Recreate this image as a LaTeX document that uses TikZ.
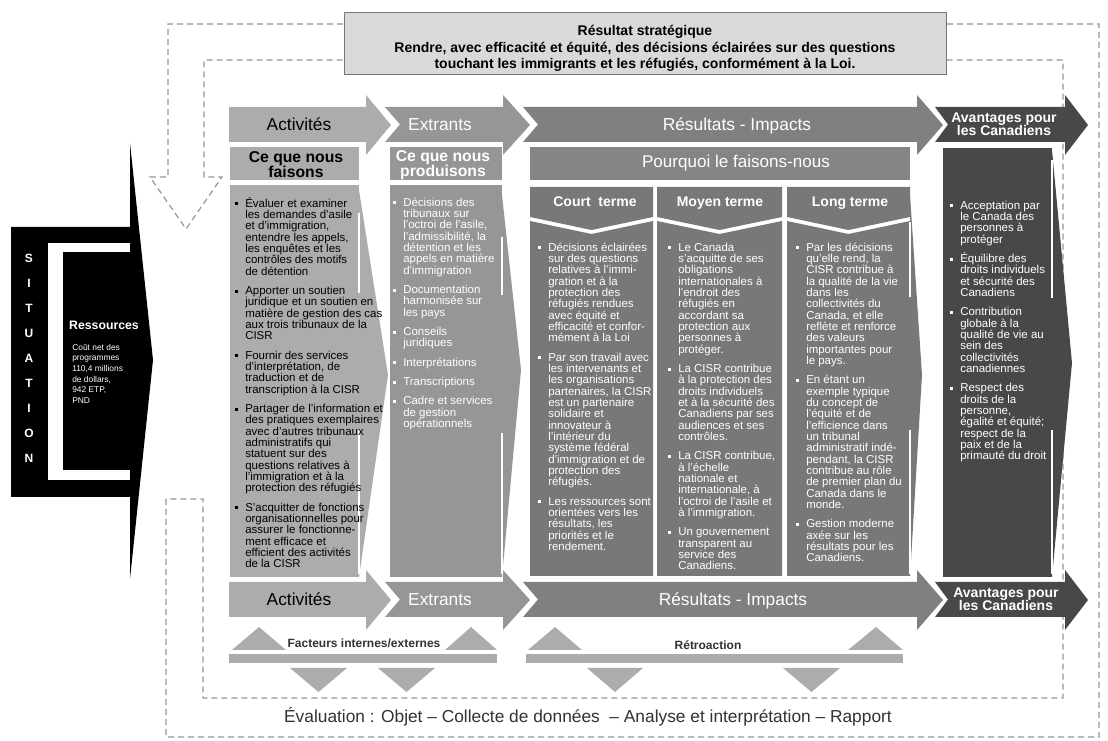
\documentclass[tikz,border=0pt]{standalone}
\usepackage{fontspec}
\setmainfont{Liberation Sans}
\definecolor{cact}{RGB}{172,172,172}
\definecolor{cext}{RGB}{150,150,150}
\definecolor{cres}{RGB}{128,128,128}
\definecolor{ccol}{RGB}{120,120,120}
\definecolor{cpq}{RGB}{133,133,133}
\definecolor{cav}{RGB}{72,72,72}
\definecolor{cbox}{RGB}{217,217,217}
\definecolor{cbord}{RGB}{120,120,120}
\definecolor{cdash}{RGB}{150,150,150}
\definecolor{ctri}{RGB}{172,172,172}
\definecolor{ctxt}{RGB}{50,50,50}
\newcommand\blt{\leavevmode\llap{\rule[1.2pt]{2.3pt}{2.3pt}\hspace{5.5pt}}}
\newcommand\fl{\rule{0pt}{9pt}}
\setlength{\lineskiplimit}{-20pt}
\begin{document}
\begin{tikzpicture}[x=0.75pt,y=-0.75pt,
  dashline/.style={draw=cdash,line width=0.9pt,dash pattern=on 4.5pt off 3pt},
  body/.style={anchor=north west,inner sep=0pt,align=left,font=\fontsize{8.6}{8.5}\selectfont},
  lbl/.style={inner sep=0pt,align=center},
  arrlbl/.style={lbl,anchor=base,font=\fontsize{13}{13}\selectfont},
  avlbl/.style={lbl,text=white,font=\bfseries\fontsize{10.5}{9.8}\selectfont},
  hdrlbl/.style={lbl,font=\bfseries\fontsize{11.8}{11.2}\selectfont},
  termlbl/.style={lbl,anchor=base,text=white,font=\bfseries\fontsize{10.5}{10.5}\selectfont},
  wseg/.style={draw=white,line width=1.5pt},
  fblbl/.style={lbl,anchor=base,text=ctxt,font=\bfseries\fontsize{9}{9}\selectfont}]
\useasboundingbox (0,0) rectangle (1108,741);
\fill[white] (0,0) rectangle (1108,741);

% dashed evaluation loop
\draw[dashline] (166,499) -- (166,737) -- (1099,737) -- (1099,24) -- (168,24) -- (168,177) -- (150,177) -- (186,229) -- (222,177) -- (204,177) -- (204,60) -- (1063,60) -- (1063,698) -- (203,698) -- (203,499) -- cycle;

% strategic outcome box
\node[draw=cbord,fill=cbox,line width=0.8pt,minimum width=451.5pt,minimum height=46.5pt,inner sep=0pt,anchor=north west] (goal) at (344,12) {};
\node[lbl,anchor=north,font=\bfseries\fontsize{10.5}{12.6}\selectfont] (goaltxt) at (645,21) {\rule{0pt}{10.5pt}Résultat stratégique\\Rendre, avec efficacité et équité, des décisions éclairées sur des questions\\touchant les immigrants et les réfugiés, conformément à la Loi.};

% situation
\fill[black] (11,227) -- (130,227) -- (130,143) -- (153,360) -- (130,579) -- (130,497) -- (11,497) -- cycle;
\fill[white] (48,243) rectangle (130,480);
\fill[black] (63,252) rectangle (131,470);
\foreach \l/\i in {S/1,I/2,T/3,U/4,A/5,T/6,I/7,O/8,N/9}
  \node[lbl,anchor=base,text=white,font=\bfseries\fontsize{9}{9}\selectfont] (sit\i) at (29,{237.5+25*\i}) {\l};
\node[lbl,anchor=base,text=white,font=\bfseries\fontsize{9.2}{9}\selectfont] (res) at (104,329.5) {Ressources};
\node[anchor=north west,inner sep=0pt,align=left,text=white,font=\fontsize{6.3}{8}\selectfont] (restxt) at (72,341.3) {\rule{0pt}{6.5pt}Coût net des\\programmes\\110,4 millions\\de dollars,\\942 ETP,\\PND};

% top arrow row
\fill[cact] (229,107) -- (366,107) -- (366,95) -- (391,125) -- (366,155) -- (366,142) -- (229,142) -- cycle;
\fill[cext] (385,107) -- (503,107) -- (503,95) -- (530,125) -- (503,155) -- (503,142) -- (385,142) -- (400,124.5) -- cycle;
\fill[cres] (523,107) -- (917,107) -- (917,95) -- (943,125) -- (917,155) -- (917,142) -- (523,142) -- (538,124.5) -- cycle;
\fill[cav] (935,107) -- (1065,107) -- (1065,95) -- (1088,125) -- (1065,155) -- (1065,142) -- (935,142) -- (948,124.5) -- cycle;
\node[arrlbl] (actT) at (299,131) {Activités};
\node[arrlbl,text=white] (extT) at (440,131) {Extrants};
\node[arrlbl,text=white] (resT) at (737,131) {Résultats - Impacts};
\node[avlbl] (avT) at (1004,124.5) {Avantages pour\\les Canadiens};

% bottom arrow row
\fill[cact] (229,582) -- (366,582) -- (366,570) -- (391,600) -- (366,630) -- (366,617) -- (229,617) -- cycle;
\fill[cext] (385,582) -- (503,582) -- (503,570) -- (530,600) -- (503,630) -- (503,617) -- (385,617) -- (400,599.5) -- cycle;
\fill[cres] (523,582) -- (917,582) -- (917,570) -- (943,600) -- (917,630) -- (917,617) -- (523,617) -- (538,599.5) -- cycle;
\fill[cav] (935,582) -- (1065,582) -- (1065,570) -- (1088,600) -- (1065,630) -- (1065,617) -- (935,617) -- (948,599.5) -- cycle;
\node[arrlbl] (actB) at (299,606) {Activités};
\node[arrlbl,text=white] (extB) at (440,606) {Extrants};
\node[arrlbl,text=white] (resB) at (733,606) {Résultats - Impacts};
\node[avlbl] (avB) at (1006,599.5) {Avantages pour\\les Canadiens};

% headers
\fill[cact] (230,147) rectangle (359,180);
\fill[cext] (390,147) rectangle (502,180);
\fill[cpq] (530,147) rectangle (910,180);
\node[hdrlbl] (faisons) at (296,164.5) {Ce que nous\\faisons};
\node[hdrlbl,text=white] (produisons) at (443,165.5) {Ce que nous\\produisons};
\node[lbl,anchor=base,text=white,font=\fontsize{12.8}{12.8}\selectfont] (pourquoi) at (736,168) {Pourquoi le faisons-nous};

% activities column
\fill[cact] (359,190) -- (388,375) -- (359,577) -- cycle;
\fill[cact] (230,185) rectangle (359,577);
\draw[wseg] (359,213) -- (359,293);
\draw[wseg] (359,430) -- (359,574);
% outputs column
\fill[cext] (502,195) -- (521,370) -- (502,577) -- cycle;
\fill[cext] (390,185) rectangle (502,577);
\draw[wseg] (502,237) -- (502,295);
\draw[wseg] (502,433) -- (502,574);
% outcome columns
\fill[ccol] (910,195) -- (922,375) -- (910,577) -- cycle;
\fill[ccol] (530,187) -- (653,187) -- (653,217) -- (591.5,230) -- (530,217) -- cycle;
\fill[ccol] (530,221) -- (591.5,234) -- (653,221) -- (653,576) -- (530,576) -- cycle;
\fill[ccol] (657,187) -- (782,187) -- (782,217) -- (719.5,230) -- (657,217) -- cycle;
\fill[ccol] (657,221) -- (719.5,234) -- (782,221) -- (782,576) -- (657,576) -- cycle;
\fill[ccol] (787,187) -- (910,187) -- (910,217) -- (848.5,230) -- (787,217) -- cycle;
\fill[ccol] (787,221) -- (848.5,234) -- (910,221) -- (910,576) -- (787,576) -- cycle;
\draw[wseg] (910,222) -- (910,297);
\draw[wseg] (910,430) -- (910,574);
\node[termlbl] (court) at (595,207) {Court\ \ terme};
\node[termlbl] (moyen) at (720,207) {Moyen terme};
\node[termlbl] (long) at (850,207) {Long terme};
% benefits column
\fill[cav] (1052,150) -- (1072,363) -- (1052,577) -- cycle;
\fill[cav] (943,148) rectangle (1052,577);
\draw[wseg] (1052,160) -- (1052,298);
\draw[wseg] (1052,430) -- (1052,574);

% column texts
\node[body,text=black] (acttxt) at (245,194.8) {\fl\blt Évaluer et examiner\\les demandes d'asile\\et d'immigration,\\entendre les appels,\\les enquêtes et les\\contrôles des motifs\\de détention\\[6pt]\blt Apporter un soutien\\juridique et un soutien en\\matière de gestion des cas\\aux trois tribunaux de la\\CISR\\[6pt]\blt Fournir des services\\d'interprétation, de\\traduction et de\\transcription à la CISR\\[6pt]\blt Partager de l'information et\\des pratiques exemplaires\\avec d'autres tribunaux\\administratifs qui\\statuent sur des\\questions relatives à\\l'immigration et à la\\protection des réfugiés\\[6pt]\blt S'acquitter de fonctions\\organisationnelles pour\\assurer le fonctionne-\\ment efficace et\\efficient des activités\\de la CISR};

\node[body,text=white] (exttxt) at (403,193.8) {\fl\blt Décisions des\\tribunaux sur\\l'octroi de l'asile,\\l'admissibilité, la\\détention et les\\appels en matière\\d'immigration\\[6pt]\blt Documentation\\harmonisée sur\\les pays\\[6pt]\blt Conseils\\juridiques\\[6pt]\blt Interprétations\\[6pt]\blt Transcriptions\\[6pt]\blt Cadre et services\\de gestion\\opérationnels};

\node[body,text=white] (courttxt) at (548,238.8) {\fl\blt Décisions éclairées\\sur des questions\\relatives à l'immi-\\gration et à la\\protection des\\réfugiés rendues\\avec équité et\\efficacité et confor-\\mément à la Loi\\[6pt]\blt Par son travail avec\\les intervenants et\\les organisations\\partenaires, la CISR\\est un partenaire\\solidaire et\\innovateur à\\l'intérieur du\\système fédéral\\d'immigration et de\\protection des\\réfugiés.\\[6pt]\blt Les ressources sont\\orientées vers les\\résultats, les\\priorités et le\\rendement.};

\node[body,text=white] (moyentxt) at (678,238.8) {\fl\blt Le Canada\\s'acquitte de ses\\obligations\\internationales à\\l'endroit des\\réfugiés en\\accordant sa\\protection aux\\personnes à\\protéger.\\[6pt]\blt La CISR contribue\\à la protection des\\droits individuels\\et à la sécurité des\\Canadiens par ses\\audiences et ses\\contrôles.\\[6pt]\blt La CISR contribue,\\à l'échelle\\nationale et\\internationale, à\\l'octroi de l'asile et\\à l'immigration.\\[6pt]\blt Un gouvernement\\transparent au\\service des\\Canadiens.};

\node[body,text=white] (longtxt) at (806,238.8) {\fl\blt Par les décisions\\qu'elle rend, la\\CISR contribue à\\la qualité de la vie\\dans les\\collectivités du\\Canada, et elle\\reflète et renforce\\des valeurs\\importantes pour\\le pays.\\[6pt]\blt En étant un\\exemple typique\\du concept de\\l'équité et de\\l'efficience dans\\un tribunal\\administratif indé-\\pendant, la CISR\\contribue au rôle\\de premier plan du\\Canada dans le\\monde.\\[6pt]\blt Gestion moderne\\axée sur les\\résultats pour les\\Canadiens.};

\node[body,text=white] (avtxt) at (960,196.8) {\fl\blt Acceptation par\\le Canada des\\personnes à\\protéger\\[6pt]\blt Équilibre des\\droits individuels\\et sécurité des\\Canadiens\\[6pt]\blt Contribution\\globale à la\\qualité de vie au\\sein des\\collectivités\\canadiennes\\[6pt]\blt Respect des\\droits de la\\personne,\\égalité et équité;\\respect de la\\paix et de la\\primauté du droit};

% feedback row
\fill[ctri] (232,650) -- (259,627) -- (286,650) -- cycle;
\fill[ctri] (445,650) -- (471,627) -- (497,650) -- cycle;
\fill[ctri] (229,654) rectangle (497,663);
\fill[ctri] (290,668) -- (347,668) -- (318.5,692) -- cycle;
\fill[ctri] (378,668) -- (435,668) -- (406.5,692) -- cycle;
\fill[ctri] (528,650) -- (555,627) -- (582,650) -- cycle;
\fill[ctri] (848,650) -- (876,627) -- (903,650) -- cycle;
\fill[ctri] (526,654) rectangle (903,663);
\fill[ctri] (587,668) -- (643,668) -- (615,692) -- cycle;
\fill[ctri] (783,668) -- (840,668) -- (811.5,692) -- cycle;
\node[fblbl] (facteurs) at (364,647.5) {Facteurs internes/externes};
\node[fblbl] (retro) at (708,649.5) {Rétroaction};

% evaluation
\node[lbl,anchor=base,text=ctxt,font=\fontsize{13}{13}\selectfont] (eval) at (588,722) {Évaluation : Objet – Collecte de données\ \ – Analyse et interprétation – Rapport};
\end{tikzpicture}
\end{document}
